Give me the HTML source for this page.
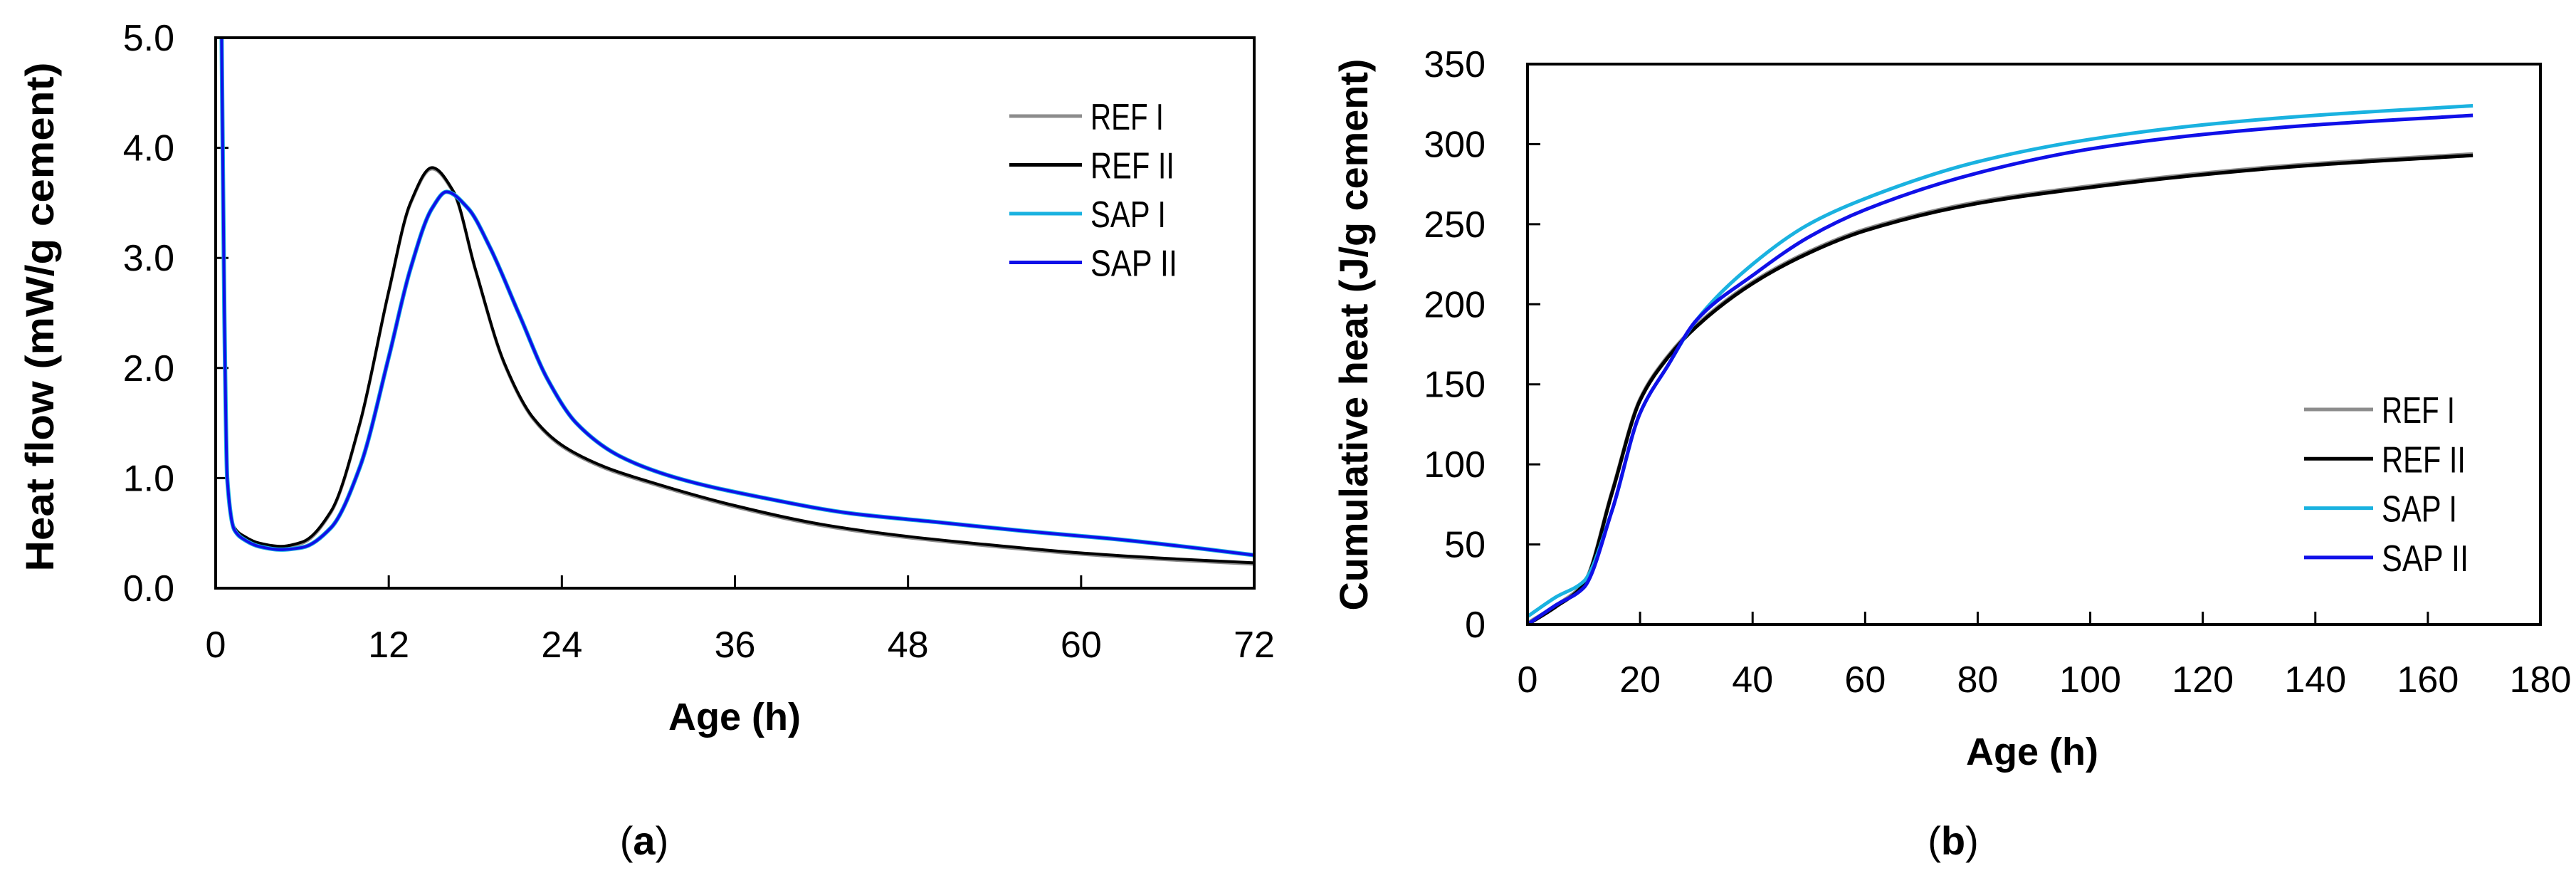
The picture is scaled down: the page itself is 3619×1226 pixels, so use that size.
<!DOCTYPE html>
<html><head><meta charset="utf-8"><style>
html,body{margin:0;padding:0;background:#fff;}
svg{display:block;}
text{font-family:"Liberation Sans",sans-serif;}
</style></head><body>
<svg id="fig" width="3619" height="1226" viewBox="0 0 3619 1226" xmlns="http://www.w3.org/2000/svg">
<g id="pa"></g>
<g id="pb"></g>
</svg>
<script>
// ---- Chart (a): heat flow ----
const aRefT = [0.4,0.6,0.8,1.3,2,3,4.5,6,8,10,12,13.5,15,16.5,18,20,22,24,27,30,36,42,48,54,60,66,72];
const aRefV = [5.2,2.5,1.0,0.55,0.47,0.41,0.38,0.42,0.7,1.5,2.7,3.5,3.82,3.6,2.9,2.05,1.55,1.3,1.1,0.97,0.75,0.58,0.47,0.39,0.32,0.27,0.23];
const aSapT = [0.4,0.6,0.8,1.3,2,3,4.5,6,8,10,12,13.5,15,16,17.5,19,21,23,25,28,32,38,44,50,56,62,67,72];
const aSapV = [5.2,2.5,1.0,0.53,0.44,0.38,0.35,0.37,0.55,1.1,2.1,2.9,3.45,3.6,3.45,3.1,2.5,1.9,1.5,1.2,1.0,0.82,0.68,0.6,0.52,0.45,0.38,0.3];
const aXTicks = [0,12,24,36,48,60,72];
const aYTicks = ["0.0","1.0","2.0","3.0","4.0","5.0"];
// ---- Chart (b): cumulative heat ----
const bT = [0,5,10,15,20,25,30,40,50,60,80,100,120,140,168];
const bRef = [0,11,25,82,140,167,186,213,232,246,263,273,281,287,293];
const bSap1 = [5,17,27,71,132,162,190,225,250,266,289,303,312,318,324];
const bSap2 = [0,12,23,71,132,162,190,218,242,259,282,297,306,312,318];
const bXTicks = [0,20,40,60,80,100,120,140,160,180];
const bYTicks = [0,50,100,150,200,250,300,350];
const legendNames = ["REF I","REF II","SAP I","SAP II"];
const legendWidths = [103,118,106,122];
const colors = ["#8c8c8c","#000000","#1ab2e0","#1010e8"];

const NS="http://www.w3.org/2000/svg";
function mk(parent,tag,attrs,txt){const e=document.createElementNS(NS,tag);for(const k in attrs)e.setAttribute(k,attrs[k]);if(txt!==undefined)e.textContent=txt;parent.appendChild(e);return e;}
// monotone cubic (Fritsch-Carlson) in screen coords
function smooth(pts){
 const n=pts.length,dx=[],s=[],m=[];
 for(let i=0;i<n-1;i++){dx[i]=pts[i+1][0]-pts[i][0];s[i]=(pts[i+1][1]-pts[i][1])/dx[i];}
 m[0]=s[0];m[n-1]=s[n-2];
 for(let i=1;i<n-1;i++){ if(s[i-1]*s[i]<=0)m[i]=0; else {const w1=2*dx[i]+dx[i-1],w2=dx[i]+2*dx[i-1];m[i]=(w1+w2)/(w1/s[i-1]+w2/s[i]);}}
 let d="M"+pts[0][0].toFixed(1)+","+pts[0][1].toFixed(1);
 for(let i=0;i<n-1;i++){const h=dx[i]/3;
  d+=" C"+(pts[i][0]+h).toFixed(1)+","+(pts[i][1]+m[i]*h).toFixed(1)+" "+(pts[i+1][0]-h).toFixed(1)+","+(pts[i+1][1]-m[i+1]*h).toFixed(1)+" "+pts[i+1][0].toFixed(1)+","+pts[i+1][1].toFixed(1);}
 return d;}

// Chart a
const pa=document.getElementById('pa');
const aL=303,aR=1762,aT=53,aB=826;
const ax=t=>aL+(t/72)*(aR-aL), ay=v=>aB-(v/5)*(aB-aT);
const cp=mk(mk(pa,'defs',{}),'clipPath',{id:'ca'});
mk(cp,'rect',{x:aL,y:aT,width:aR-aL,height:aB-aT});
aYTicks.forEach(s=>{const v=parseFloat(s);
 const t=mk(pa,'line',{x1:aL,x2:aL+18,y1:ay(v),y2:ay(v),stroke:'#000','stroke-width':3});
 
 const l=mk(pa,'text',{x:245,y:ay(v)+18,'text-anchor':'end','font-size':52},s);
 });
aXTicks.forEach(v=>{
 const t=mk(pa,'line',{x1:ax(v),x2:ax(v),y1:aB,y2:aB-18,stroke:'#000','stroke-width':3});
 
 const l=mk(pa,'text',{x:ax(v),y:923,'text-anchor':'middle','font-size':52},String(v));
 });
[[aRefT,aRefV,0,2],[aRefT,aRefV,1,0],[aSapT,aSapV,2,0],[aSapT,aSapV,3,0]].forEach(([T,V,ci,off])=>{
 const p=mk(pa,'path',{d:smooth(T.map((t,i)=>[ax(t),ay(V[i])+off])),fill:'none',stroke:colors[ci],'stroke-width':ci===2?6:4,'clip-path':'url(#ca)'});
 });
const fa=mk(pa,'rect',{x:aL,y:aT,width:aR-aL,height:aB-aT,fill:'none',stroke:'#000','stroke-width':4});

legendNames.forEach((n,i)=>{const y=163+i*68.5;
 const l=mk(pa,'line',{x1:1418,x2:1520,y1:y,y2:y,stroke:colors[i],'stroke-width':5});
 
 const t=mk(pa,'text',{x:1532,y:y+19,'font-size':52,textLength:legendWidths[i],lengthAdjust:'spacingAndGlyphs'},n);
 });
const ya=mk(pa,'text',{x:0,y:0,'font-size':56,'font-weight':'bold','text-anchor':'middle',textLength:715,lengthAdjust:'spacingAndGlyphs',transform:'translate(75,445) rotate(-90)'},'Heat flow (mW/g cement)');

const xa=mk(pa,'text',{x:1032,y:1025,'font-size':54,'font-weight':'bold','text-anchor':'middle'},'Age (h)');

const la=mk(pa,'text',{x:905,y:1200,'font-size':56,'text-anchor':'middle','font-family':'Liberation Serif, serif'},'');

mk(la,'tspan',{},'(');mk(la,'tspan',{'font-weight':'bold'},'a');mk(la,'tspan',{},')');

// Chart b
const pb=document.getElementById('pb');
const bL=2146,bR=3569,bTp=90,bB=877;
const bx=t=>bL+(t/180)*(bR-bL), by=v=>bB-(v/350)*(bB-bTp);
bYTicks.forEach(v=>{
 const t=mk(pb,'line',{x1:bL,x2:bL+18,y1:by(v),y2:by(v),stroke:'#000','stroke-width':3});
 
 const l=mk(pb,'text',{x:2087,y:by(v)+18,'text-anchor':'end','font-size':52},String(v));
 });
bXTicks.forEach(v=>{
 const t=mk(pb,'line',{x1:bx(v),x2:bx(v),y1:bB,y2:bB-18,stroke:'#000','stroke-width':3});
 
 const l=mk(pb,'text',{x:bx(v),y:972,'text-anchor':'middle','font-size':52},String(v));
 });
[[bRef,0,-2],[bRef,1,0],[bSap1,2,0],[bSap2,3,0]].forEach(([V,ci,off])=>{
 const p=mk(pb,'path',{d:smooth(bT.map((t,i)=>[bx(t),by(V[i])+off])),fill:'none',stroke:colors[ci],'stroke-width':5});
 });
const fb=mk(pb,'rect',{x:bL,y:bTp,width:bR-bL,height:bB-bTp,fill:'none',stroke:'#000','stroke-width':4});

legendNames.forEach((n,i)=>{const y=575+i*69.3;
 const l=mk(pb,'line',{x1:3237,x2:3334,y1:y,y2:y,stroke:colors[i],'stroke-width':5});
 
 const t=mk(pb,'text',{x:3346,y:y+19,'font-size':52,textLength:legendWidths[i],lengthAdjust:'spacingAndGlyphs'},n);
 });
const yb=mk(pb,'text',{x:0,y:0,'font-size':56,'font-weight':'bold','text-anchor':'middle',textLength:775,lengthAdjust:'spacingAndGlyphs',transform:'translate(1921,470) rotate(-90)'},'Cumulative heat (J/g cement)');

const xb=mk(pb,'text',{x:2855,y:1074,'font-size':54,'font-weight':'bold','text-anchor':'middle'},'Age (h)');

const lb=mk(pb,'text',{x:2744,y:1200,'font-size':56,'text-anchor':'middle','font-family':'Liberation Serif, serif'},'');

mk(lb,'tspan',{},'(');mk(lb,'tspan',{'font-weight':'bold'},'b');mk(lb,'tspan',{},')');
</script>
</body></html>
